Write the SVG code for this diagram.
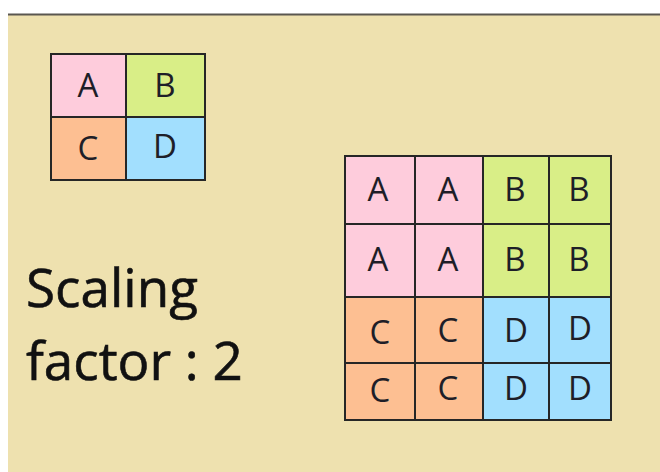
<svg xmlns="http://www.w3.org/2000/svg" width="660" height="472" viewBox="0 0 660 472">
  <style>
    .cell { stroke: #262626; stroke-width: 2; }
    .a { fill: #FECCDC; }
    .b { fill: #D9EE87; }
    .c { fill: #FDBF92; }
    .d { fill: #A2DFFE; }
    .lbl { font-family: "Open Sans", "Liberation Sans", sans-serif; font-size: 33px; fill: #1E1E28; text-anchor: middle; }
    .cap { font-family: "Open Sans", "Liberation Sans", sans-serif; font-size: 53px; fill: #111111; stroke: #111111; stroke-width: 0.6; }
  </style>

  <!-- page and panel -->
  <rect x="0" y="0" width="660" height="472" fill="#FFFFFF"/>
  <rect x="8" y="14" width="652" height="458" fill="#EEE1AF"/>
  <line x1="8" y1="14.5" x2="660" y2="14.5" stroke="#5A5750" stroke-width="2"/>

  <!-- original 2x2 image -->
  <g id="small-grid">
    <g id="s-a"><rect class="cell a" x="51" y="54" width="75" height="63"/><text class="lbl" x="88" y="97">A</text></g>
    <g id="s-b"><rect class="cell b" x="126" y="54" width="79" height="63"/><text class="lbl" x="165" y="97">B</text></g>
    <g id="s-c"><rect class="cell c" x="51" y="117" width="75" height="63"/><text class="lbl" x="88" y="160">C</text></g>
    <g id="s-d"><rect class="cell d" x="126" y="117" width="79" height="63"/><text class="lbl" x="165" y="158">D</text></g>
  </g>

  <!-- scaled 4x4 image -->
  <g id="large-grid">
    <g id="l-a1"><rect class="cell a" x="345" y="156" width="70" height="68"/><text class="lbl" x="378" y="201">A</text></g>
    <g id="l-a2"><rect class="cell a" x="415" y="156" width="68" height="68"/><text class="lbl" x="448" y="201">A</text></g>
    <g id="l-b1"><rect class="cell b" x="483" y="156" width="66" height="68"/><text class="lbl" x="515" y="201">B</text></g>
    <g id="l-b2"><rect class="cell b" x="549" y="156" width="62" height="68"/><text class="lbl" x="579" y="201">B</text></g>

    <g id="l-a3"><rect class="cell a" x="345" y="224" width="70" height="73"/><text class="lbl" x="378" y="271">A</text></g>
    <g id="l-a4"><rect class="cell a" x="415" y="224" width="68" height="73"/><text class="lbl" x="448" y="271">A</text></g>
    <g id="l-b3"><rect class="cell b" x="483" y="224" width="66" height="73"/><text class="lbl" x="515" y="271">B</text></g>
    <g id="l-b4"><rect class="cell b" x="549" y="224" width="62" height="73"/><text class="lbl" x="579" y="271">B</text></g>

    <g id="l-c1"><rect class="cell c" x="345" y="297" width="70" height="66"/><text class="lbl" x="380" y="344">C</text></g>
    <g id="l-c2"><rect class="cell c" x="415" y="297" width="68" height="66"/><text class="lbl" x="448" y="342">C</text></g>
    <g id="l-d1"><rect class="cell d" x="483" y="297" width="66" height="66"/><text class="lbl" x="516" y="342">D</text></g>
    <g id="l-d2"><rect class="cell d" x="549" y="297" width="62" height="66"/><text class="lbl" x="580" y="340">D</text></g>

    <g id="l-c3"><rect class="cell c" x="345" y="363" width="70" height="57"/><text class="lbl" x="380" y="402">C</text></g>
    <g id="l-c4"><rect class="cell c" x="415" y="363" width="68" height="57"/><text class="lbl" x="448" y="400">C</text></g>
    <g id="l-d3"><rect class="cell d" x="483" y="363" width="66" height="57"/><text class="lbl" x="516" y="400">D</text></g>
    <g id="l-d4"><rect class="cell d" x="549" y="363" width="62" height="57"/><text class="lbl" x="580" y="400">D</text></g>
  </g>

  <!-- caption -->
  <g id="caption">
    <text class="cap" x="26" y="307">Scaling</text>
    <text class="cap" x="26" y="380">factor : 2</text>
  </g>
</svg>
